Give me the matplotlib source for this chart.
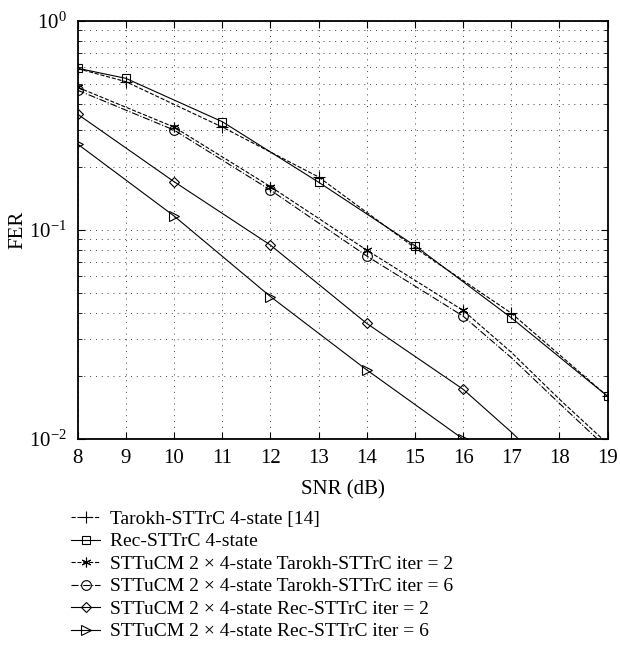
import numpy as np
import matplotlib
matplotlib.use("Agg")
import matplotlib.pyplot as plt
from matplotlib.ticker import LogLocator, NullFormatter

plt.rcParams['font.family'] = ['Liberation Serif', 'DejaVu Serif']
plt.rcParams['mathtext.fontset'] = 'stix'

# SNR (dB) points and FER values
snr_tarokh = [8, 9, 11, 13, 15, 17, 19]
fer_tarokh = [0.59, 0.511, 0.31, 0.179, 0.082, 0.040, 0.016]

snr_rec = [8, 9, 11, 13, 15, 17, 19]
fer_rec = [0.592, 0.53, 0.329, 0.169, 0.084, 0.038, 0.016]

snr_tu = [8, 10, 12, 14, 16, 17, 18, 19]
fer_tu_tarokh_2 = [0.48, 0.31, 0.161, 0.080, 0.0412, 0.026, 0.0155, 0.0095]
fer_tu_tarokh_6 = [0.465, 0.30, 0.155, 0.075, 0.0387, 0.0245, 0.0148, 0.0090]

snr_tu_rec2 = [8, 10, 12, 14, 16, 17, 18]
fer_tu_rec_2 = [0.357, 0.17, 0.0846, 0.0357, 0.0173, 0.0108, 0.0065]

snr_tu_rec6 = [8, 10, 12, 14, 16]
fer_tu_rec_6 = [0.257, 0.1165, 0.048, 0.0214, 0.0100]

labels = ['Tarokh-STTrC 4-state [14]',
          'Rec-STTrC 4-state',
          'STTuCM 2 × 4-state Tarokh-STTrC iter = 2',
          'STTuCM 2 × 4-state Tarokh-STTrC iter = 6',
          'STTuCM 2 × 4-state Rec-STTrC iter = 2',
          'STTuCM 2 × 4-state Rec-STTrC iter = 6']

fig = plt.figure(figsize=(6.2, 6.46), dpi=100)
ax = fig.add_axes([0.1253, 0.3204, 0.8547, 0.6476])

style = dict(color='k', linewidth=0.8, markerfacecolor='none', markeredgecolor='k',
             markeredgewidth=0.8)
ax.plot(snr_tarokh, fer_tarokh, '--', marker='+', markersize=9, label=labels[0], **style)
ax.plot(snr_rec, fer_rec, '-', marker='s', markersize=6, label=labels[1], **style)
ax.plot(snr_tu, fer_tu_tarokh_2, '--', marker=(6, 2, 0), markersize=7,
        markevery=[0, 1, 2, 3, 4], label=labels[2], **style)
ax.plot(snr_tu, fer_tu_tarokh_6, '-.', marker='o', markersize=7, markevery=[0, 1, 2, 3, 4],
        label=labels[3], **style)
ax.plot(snr_tu_rec2, fer_tu_rec_2, '-', marker='D', markersize=5.5, markevery=[0, 1, 2, 3, 4],
        label=labels[4], **style)
ax.plot(snr_tu_rec6, fer_tu_rec_6, '-', marker='>', markersize=7, label=labels[5], **style)

ax.set_yscale('log')
ax.set_xlim(8, 19)
ax.set_ylim(1e-2, 1)
ax.set_xticks(range(8, 20))
ax.yaxis.set_major_locator(LogLocator(base=10, numticks=5))
ax.yaxis.set_minor_locator(LogLocator(base=10, subs=np.arange(2, 10), numticks=10))
ax.yaxis.set_minor_formatter(NullFormatter())

ax.grid(True, which='major', linestyle=(0, (1, 5)), color='0.25', linewidth=0.7)
ax.grid(True, which='minor', axis='y', linestyle=(0, (1, 5)), color='0.25', linewidth=0.7)
ax.tick_params(which='both', direction='in', top=True, right=True, labelsize=15)
ax.tick_params(axis='x', pad=7)
ax.tick_params(axis='y', pad=8)
ax.tick_params(which='major', length=5)
ax.tick_params(which='minor', length=3)
for s in ax.spines.values():
    s.set_linewidth(1.3)

ax.set_xlabel('SNR (dB)', fontsize=15, labelpad=9)
ax.set_ylabel('FER', fontsize=15, labelpad=1)

ax.legend(loc='upper left', bbox_to_anchor=(0.115, 0.21), bbox_transform=fig.transFigure,
          frameon=False, fontsize=14, handlelength=1.5, handletextpad=0.5,
          labelspacing=0.25, borderaxespad=0, borderpad=0)

fig.savefig('out.png', dpi=100)
